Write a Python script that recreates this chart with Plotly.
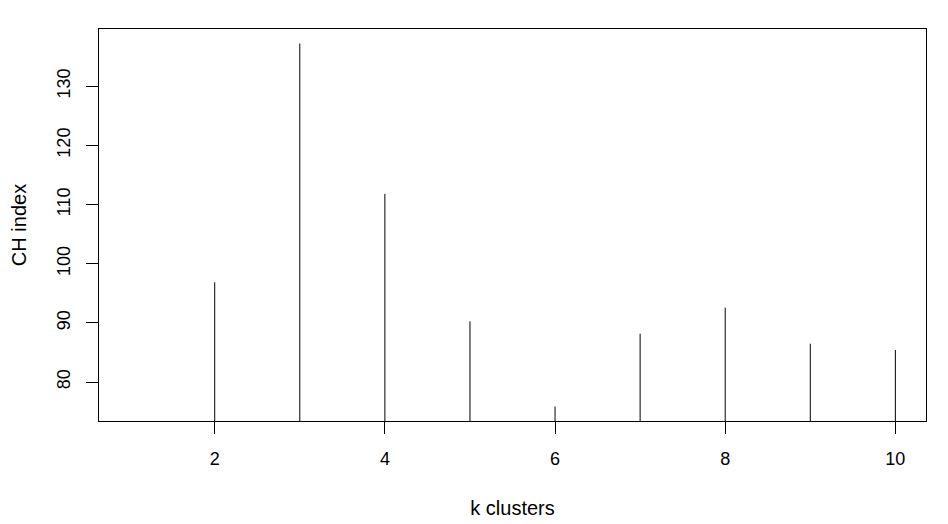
import plotly.graph_objects as go

k_clusters = [1, 2, 3, 4, 5, 6, 7, 8, 9, 10]
ch_index = [None, 96.85, 137.2, 111.8, 90.25, 75.87, 88.17, 92.57, 86.48, 85.41]
x_ticks = [2, 4, 6, 8, 10]
y_ticks = [80, 90, 100, 110, 120, 130]

# R-style type="h" vertical lines from 0 to the value
xs, ys = [], []
for k, v in zip(k_clusters, ch_index):
    if v is None:
        continue
    xs += [k, k, None]
    ys += [0, v, None]

def r_range(vals):
    lo, hi = min(vals), max(vals)
    pad = (hi - lo) * 0.04
    return [lo - pad, hi + pad]

valid = [v for v in ch_index if v is not None]
xr = r_range(k_clusters)
yr = r_range(valid)

fig = go.Figure()
fig.add_trace(go.Scatter(x=xs, y=ys, mode="lines",
                         line=dict(color="black", width=1),
                         hoverinfo="skip", showlegend=False))

tick_font = dict(family="Liberation Sans, Arial, sans-serif", size=18, color="black")
title_font = dict(family="Liberation Sans, Arial, sans-serif", size=20, color="black")

# page body has an 8px default margin, so the figure is sized to fit inside it
fig.update_layout(
    width=940, height=516,
    margin=dict(l=91, r=22, t=21, b=103),
    paper_bgcolor="white", plot_bgcolor="white",
    font=tick_font,
    showlegend=False,
)
fig.update_xaxes(
    range=xr, tickmode="array", tickvals=x_ticks, ticktext=[str(t) for t in x_ticks],
    showline=True, mirror=True, linecolor="black", linewidth=1,
    ticks="outside", ticklen=12, tickcolor="black", tickwidth=1,
    ticklabelstandoff=9, tickfont=tick_font, automargin=False,
    showgrid=False, zeroline=False,
    title=dict(text="k clusters", font=title_font, standoff=33),
)
fig.update_yaxes(
    range=yr, tickmode="array", tickvals=y_ticks, ticktext=[str(t) for t in y_ticks],
    showline=True, mirror=True, linecolor="black", linewidth=1,
    ticks="outside", ticklen=12, tickcolor="black", tickwidth=1,
    tickangle=-90, ticklabelstandoff=9, tickfont=tick_font, automargin=False,
    showgrid=False, zeroline=False,
    title=dict(text="CH index", font=title_font, standoff=22),
)

fig.write_html("out.html")
